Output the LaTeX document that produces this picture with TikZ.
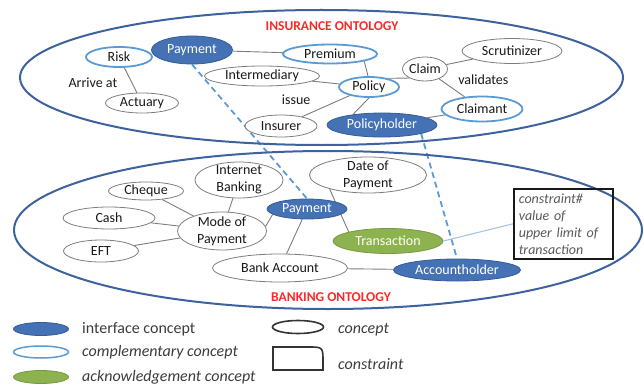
\documentclass[tikz,border=0pt]{standalone}
\usepackage{fontspec}
\setmainfont{Carlito}
\usetikzlibrary{shapes.geometric,backgrounds}

\definecolor{ifblue}{RGB}{68,114,180}
\definecolor{ifedge}{RGB}{52,92,150}
\definecolor{compblue}{RGB}{91,155,213}
\definecolor{ackgreen}{RGB}{141,179,80}
\definecolor{ontblue}{RGB}{62,98,158}
\definecolor{ontred}{RGB}{250,40,40}
\definecolor{txtgray}{RGB}{25,25,25}
\definecolor{leggray}{RGB}{60,60,60}
\definecolor{linkgray}{RGB}{125,125,125}
\definecolor{conblue}{RGB}{160,190,225}

\tikzset{
  cpt/.style={ellipse, draw=linkgray, line width=0.8pt, fill=white, text=txtgray,
    inner sep=0pt, font=\fontsize{14}{17}\selectfont, align=center},
  iface/.style={cpt, draw=ifedge, fill=ifblue, text=white},
  compl/.style={cpt, draw=compblue, line width=1.8pt},
  ack/.style={cpt, draw=ackgreen!85!black, fill=ackgreen, text=white},
  twoline/.style={inner ysep=-3pt},
  sz/.style 2 args={minimum width=#1pt, minimum height=#2pt},
  link/.style={draw=linkgray, line width=0.9pt},
  mapline/.style={draw=compblue, line width=1.8pt, dash pattern=on 6pt off 4pt},
  ont/.style={ellipse, draw=ontblue, line width=2pt, inner sep=0pt},
  ontlabel/.style={text=ontred, font=\fontsize{13.5}{16}\selectfont\bfseries},
  elabel/.style={text=txtgray, font=\fontsize{14}{17}\selectfont, inner sep=1pt},
  legtext/.style={text=leggray, font=\fontsize{16}{19}\selectfont, anchor=west, inner sep=0pt},
}

\begin{document}
\begin{tikzpicture}[x=1pt, y=-1pt]
  \useasboundingbox (0,0) rectangle (644,385);

  % the two ontologies
  \node[ont, minimum width=603pt, minimum height=135pt] (I_ont) at (321.5,77.5) {};
  \node[ont, minimum width=628pt, minimum height=158pt] (B_ont) at (328,230) {};
  \node[ontlabel] (I_lbl) at (332,26) {INSURANCE ONTOLOGY};
  \node[ontlabel] (B_lbl) at (331,297) {BANKING ONTOLOGY};

  % insurance side
  \node[iface, sz={81}{28}] (I_pay) at (192,50) {Payment};
  \node[compl, sz={66}{20}] (I_risk) at (119,57) {Risk};
  \node[compl, sz={94}{19}] (I_prem) at (330,54) {Premium};
  \node[cpt, sz={100}{25}] (I_scr) at (512,51) {Scrutinizer};
  \node[cpt, sz={115}{20}] (I_int) at (262,76) {Intermediary};
  \node[cpt, sz={44}{24}] (I_claim) at (425,69) {Claim};
  \node[compl, sz={60}{20}] (I_pol) at (369,87) {Policy};
  \node[cpt, sz={73}{20}] (I_act) at (142,103) {Actuary};
  \node[compl, sz={81}{25}] (I_clmt) at (482,109) {Claimant};
  \node[cpt, sz={72}{22}] (I_isr) at (281,126) {Insurer};
  \node[iface, sz={110}{24}] (I_hold) at (382,125) {Policyholder};

  % banking side
  \node[cpt, twoline, sz={88}{36}] (B_net) at (239,180) {Internet\\Banking};
  \node[cpt, twoline, sz={117}{36}] (B_date) at (368,175) {Date of\\Payment};
  \node[cpt, sz={75}{18}] (B_chq) at (146,191) {Cheque};
  \node[cpt, sz={92}{22}] (B_cash) at (109,218) {Cash};
  \node[cpt, sz={75}{22}] (B_eft) at (101,251) {EFT};
  \node[cpt, twoline, sz={89}{38}] (B_mode) at (222,231) {Mode of\\Payment};
  \node[iface, sz={80}{20}] (B_pay) at (307,209) {Payment};
  \node[ack, sz={110}{25}] (B_trans) at (388,241) {Transaction};
  \node[cpt, sz={135}{28}] (B_bank) at (280,268) {Bank Account};
  \node[iface, sz={127}{22}] (B_hold) at (457,270) {Accountholder};
  \node[draw=txtgray, line width=1.6pt, text=black!65, anchor=north west,
    font=\fontsize{14}{17}\selectfont\itshape, align=left, text width=89pt,
    inner xsep=5pt, inner ysep=0pt, minimum height=70pt] (B_con) at (513,188)
    {constraint\#\\value of\\upper limit of\\transaction};

  \begin{scope}[on background layer]
    \path (I_risk) edge[link] node[elabel, left=12pt, yshift=-3pt] {Arrive at} (I_act);
    \path (I_pay) edge[link] (I_prem);
    \path (I_prem.-12) edge[link] (I_pol.95);
    \path (I_int) edge[link] (I_pol);
    \path (I_pol) edge[link] node[elabel, anchor=south east, xshift=-14pt] {issue} (I_isr);
    \path (I_pol.25) edge[link] (I_claim.210);
    \path (I_pol.south) edge[link] (I_hold.160);
    \path (I_claim) edge[link] (I_scr);
    \path (I_claim) edge[link] node[elabel, anchor=west, xshift=5pt, yshift=8pt] {validates} (I_clmt);
    \path (I_clmt) edge[link] (I_hold);

    \path (B_chq) edge[link] (B_mode);
    \path (B_cash) edge[link] (B_mode);
    \path (B_eft) edge[link] (B_mode);
    \path (B_net) edge[link] (B_mode);
    \path (B_mode.6) edge[link] (B_pay.189);
    \path (B_pay) edge[link] (B_bank);
    \path (B_bank) edge[link] (B_hold);
    \path (B_date.200) edge[link] (B_trans.167);
    \path (B_trans.east) edge[draw=conblue, line width=1pt] (B_con.west);

    % concepts shared by both ontologies
    \path (I_pay.south) edge[mapline] (B_pay.north);
    \path (I_hold.south east) edge[mapline] (B_hold.north);
  \end{scope}

  % legend
  \node[iface, sz={55}{13}] (L_if) at (41,329) {};
  \node[legtext] (L_if_t) at (82,329) {interface concept};
  \node[compl, line width=1.5pt, sz={55}{12}] (L_cp) at (41,352) {};
  \node[legtext] (L_cp_t) at (82,352) {\itshape complementary concept};
  \node[ack, sz={55}{13}] (L_ak) at (41,377) {};
  \node[legtext] (L_ak_t) at (82,377) {\itshape acknowledgement concept};
  \node[cpt, draw=black!80, line width=1.6pt, sz={51}{13}] (L_cc) at (298,327) {};
  \node[legtext] (L_cc_t) at (338,330) {\itshape concept};
  \draw[line width=1.6pt, draw=black!80] (273,347) -- (308,347)
    .. controls (323,347) .. (323,362) -- (323,370) -- (273,370) -- cycle;
  \node[legtext] (L_cn_t) at (338,364) {\itshape constraint};
\end{tikzpicture}
\end{document}
